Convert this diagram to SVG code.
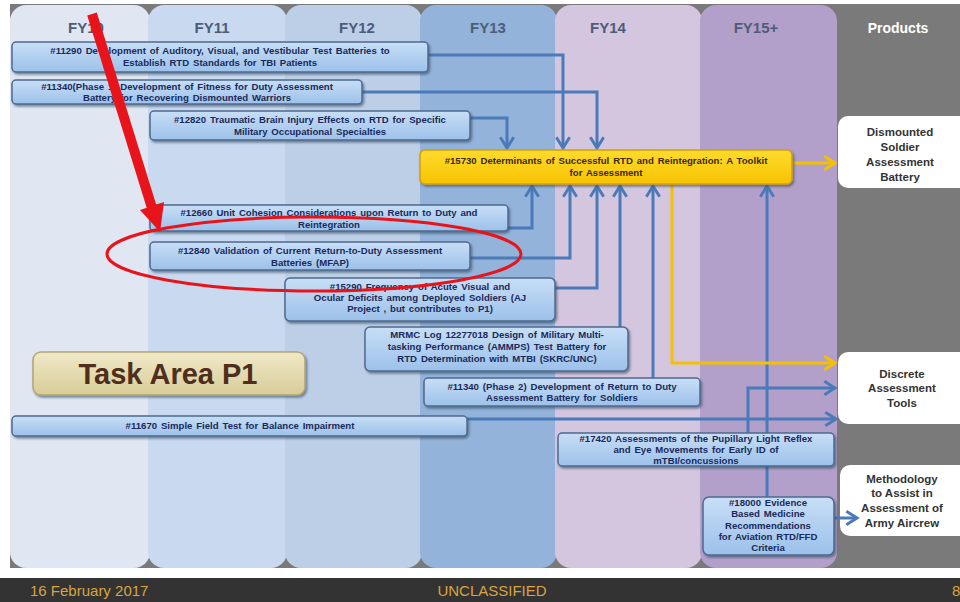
<svg xmlns="http://www.w3.org/2000/svg" width="960" height="602" viewBox="0 0 960 602">
<defs>
<style>
.col{stroke:none}
.hdr{font-family:"Liberation Sans",Arial,sans-serif;font-weight:bold;font-size:15px;fill:#4d5d78;text-anchor:middle}
.box{fill:url(#gBox);stroke:#4f6a8f;stroke-width:1.5;filter:url(#sh)}
.t{font-family:"Liberation Sans",Arial,sans-serif;font-weight:bold;font-size:9.6px;word-spacing:1.2px;fill:#1a2a5a;text-anchor:middle}
.prod{fill:#ffffff;stroke:none}
.pt{font-family:"Liberation Sans",Arial,sans-serif;font-weight:bold;font-size:11.5px;fill:#333333;text-anchor:middle}
.ca{fill:none;stroke:#4a7ab8;stroke-width:3;marker-end:url(#mB)}
.ya{fill:none;stroke:#f5c000;stroke-width:3;marker-end:url(#mY)}
</style>
<linearGradient id="gBox" x1="0" y1="0" x2="0" y2="1">
<stop offset="0" stop-color="#c8def6"/><stop offset="1" stop-color="#9cc1ea"/>
</linearGradient>
<linearGradient id="gYel" x1="0" y1="0" x2="0" y2="1">
<stop offset="0" stop-color="#ffdb2e"/><stop offset="1" stop-color="#f7c300"/>
</linearGradient>
<linearGradient id="gTask" x1="0" y1="0" x2="0" y2="1">
<stop offset="0" stop-color="#f0e9c8"/><stop offset="1" stop-color="#d9cc98"/>
</linearGradient>
<filter id="sh" x="-5%" y="-20%" width="110%" height="150%">
<feDropShadow dx="1.5" dy="2" stdDeviation="1" flood-color="#34465f" flood-opacity="0.6"/>
</filter>
<marker id="mB" viewBox="0 0 12 12" refX="10" refY="6" markerWidth="16" markerHeight="16" markerUnits="userSpaceOnUse" orient="auto">
<path d="M2,1 L10,6 L2,11" fill="none" stroke="#4a7ab8" stroke-width="2.2"/>
</marker>
<marker id="mY" viewBox="0 0 12 12" refX="10" refY="6" markerWidth="16" markerHeight="16" markerUnits="userSpaceOnUse" orient="auto">
<path d="M2,1 L10,6 L2,11" fill="none" stroke="#f5c000" stroke-width="2.2"/>
</marker>
</defs>

<rect x="0" y="0" width="960" height="602" fill="#ffffff"/>
<rect x="10" y="4" width="950" height="564" fill="#7a7a7a"/>

<g id="columns">
<rect class="col" x="10" y="5" width="140" height="563" rx="16" fill="#e0e7f2"/>
<rect class="col" x="148" y="5" width="139" height="563" rx="16" fill="#c9d9ef"/>
<rect class="col" x="285" y="5" width="137" height="563" rx="16" fill="#bdcfe6"/>
<rect class="col" x="420" y="5" width="137" height="563" rx="16" fill="#93b3da"/>
<rect class="col" x="555" y="5" width="147" height="563" rx="16" fill="#d5c6e0"/>
<rect class="col" x="700" y="5" width="137" height="563" rx="16" fill="#b3a0ca"/>
<text class="hdr" x="86" y="33">FY10</text>
<text class="hdr" x="212" y="33">FY11</text>
<text class="hdr" x="357" y="33">FY12</text>
<text class="hdr" x="488" y="33">FY13</text>
<text class="hdr" x="608" y="33">FY14</text>
<text class="hdr" x="756" y="33">FY15+</text>
<text class="hdr" x="898" y="33" style="fill:#ffffff;font-size:14px">Products</text>
</g>

<g id="pDismounted">
<rect class="prod" x="838" y="116" width="140" height="72" rx="10"/>
<text class="pt" x="900" y="136">Dismounted</text>
<text class="pt" x="900" y="151">Soldier</text>
<text class="pt" x="900" y="166">Assessment</text>
<text class="pt" x="900" y="181">Battery</text>
</g>
<g id="pDiscrete">
<rect class="prod" x="838" y="352" width="140" height="72" rx="10"/>
<text class="pt" x="902" y="378">Discrete</text>
<text class="pt" x="902" y="392">Assessment</text>
<text class="pt" x="902" y="407">Tools</text>
</g>
<g id="pMethodology">
<rect class="prod" x="840" y="465" width="140" height="71" rx="10"/>
<text class="pt" x="902" y="483">Methodology</text>
<text class="pt" x="902" y="497">to Assist in</text>
<text class="pt" x="902" y="512">Assessment of</text>
<text class="pt" x="902" y="527">Army Aircrew</text>
</g>

<g id="connectors">
<polyline class="ca" points="428,55 563,55 563,148"/>
<polyline class="ca" points="362,92 597,92 597,148"/>
<polyline class="ca" points="470,118 507,118 507,148"/>
<polyline class="ca" points="508,228 532,228 532,186"/>
<polyline class="ca" points="470,258 570,258 570,186"/>
<polyline class="ca" points="555,288 597,288 597,186"/>
<polyline class="ca" points="620,328 620,186"/>
<polyline class="ca" points="653,378 653,186"/>
<polyline class="ca" points="767,497 767,186"/>
<polyline class="ca" points="748,433 748,388 835,388"/>
<polyline class="ca" points="467,419 836,419"/>
<polyline class="ca" points="833,518 857,518"/>
<polyline class="ya" points="792,163 835,163"/>
<polyline class="ya" points="672,184 672,363 835,363"/>
</g>

<g id="n11290">
<rect class="box" x="12" y="42" width="416" height="30" rx="4"/>
<text class="t" x="220" y="54">#11290 Development of Auditory, Visual, and Vestibular Test Batteries to</text>
<text class="t" x="220" y="66">Establish RTD Standards for TBI Patients</text>
</g>
<g id="n11340p1">
<rect class="box" x="12" y="80" width="350" height="24" rx="4"/>
<text class="t" x="187" y="90">#11340(Phase 1) Development of Fitness for Duty Assessment</text>
<text class="t" x="187" y="101">Battery for Recovering Dismounted Warriors</text>
</g>
<g id="n12820">
<rect class="box" x="150" y="111" width="320" height="29" rx="4"/>
<text class="t" x="310" y="123">#12820 Traumatic Brain Injury Effects on RTD for Specific</text>
<text class="t" x="310" y="135">Military Occupational Specialties</text>
</g>
<g id="n15730">
<rect x="420" y="150" width="372" height="34" rx="5" fill="url(#gYel)" stroke="#d4a000" stroke-width="1.5" filter="url(#sh)"/>
<text class="t" x="606" y="164" style="fill:#3a2a00">#15730 Determinants of Successful RTD and Reintegration: A Toolkit</text>
<text class="t" x="606" y="176" style="fill:#3a2a00">for Assessment</text>
</g>
<g id="n12660">
<rect class="box" x="150" y="205" width="358" height="26" rx="4"/>
<text class="t" x="329" y="216">#12660 Unit Cohesion Considerations upon Return to Duty and</text>
<text class="t" x="329" y="228">Reintegration</text>
</g>
<g id="n12840">
<rect class="box" x="150" y="242" width="320" height="28" rx="4"/>
<text class="t" x="310" y="254">#12840 Validation of Current Return-to-Duty Assessment</text>
<text class="t" x="310" y="266">Batteries (MFAP)</text>
</g>
<g id="n15290">
<rect class="box" x="285" y="278" width="270" height="43" rx="5"/>
<text class="t" x="420" y="290">#15290 Frequency of Acute Visual and</text>
<text class="t" x="420" y="301">Ocular Deficits among Deployed Soldiers (AJ</text>
<text class="t" x="420" y="312">Project , but contributes to P1)</text>
</g>
<g id="nMRMC">
<rect class="box" x="365" y="327" width="263" height="44" rx="5"/>
<text class="t" x="497" y="338">MRMC Log 12277018 Design of Military Multi-</text>
<text class="t" x="497" y="350">tasking Performance (AMMPS) Test Battery for</text>
<text class="t" x="497" y="362">RTD Determination with MTBI (SKRC/UNC)</text>
</g>
<g id="n11340p2">
<rect class="box" x="424" y="378" width="276" height="28" rx="4"/>
<text class="t" x="562" y="390">#11340 (Phase 2) Development of Return to Duty</text>
<text class="t" x="562" y="401">Assessment Battery for Soldiers</text>
</g>
<g id="n11670">
<rect class="box" x="12" y="416" width="455" height="20" rx="4"/>
<text class="t" x="240" y="429">#11670 Simple Field Test for Balance Impairment</text>
</g>
<g id="n17420">
<rect class="box" x="558" y="433" width="276" height="33" rx="4"/>
<text class="t" x="696" y="442">#17420 Assessments of the Pupillary Light Reflex</text>
<text class="t" x="696" y="453">and Eye Movements for Early ID of</text>
<text class="t" x="696" y="464">mTBI/concussions</text>
</g>
<g id="n18000">
<rect class="box" x="703" y="497" width="131" height="58" rx="6"/>
<text class="t" x="768" y="506">#18000 Evidence</text>
<text class="t" x="768" y="517">Based Medicine</text>
<text class="t" x="768" y="529">Recommendations</text>
<text class="t" x="768" y="540">for Aviation RTD/FFD</text>
<text class="t" x="768" y="551">Criteria</text>
</g>

<g id="taskArea">
<rect x="33" y="352" width="272" height="43" rx="8" fill="url(#gTask)" stroke="#b3a472" stroke-width="1.5" filter="url(#sh)"/>
<text x="168" y="384" text-anchor="middle" font-family="'Liberation Sans',Arial,sans-serif" font-weight="bold" font-size="29" fill="#4e2e1c">Task Area P1</text>
</g>

<g id="annotations">
<ellipse cx="314" cy="254" rx="207" ry="37" fill="none" stroke="#e8141c" stroke-width="3"/>
<line x1="92" y1="14" x2="152" y2="208" stroke="#e8141c" stroke-width="10"/>
<polygon points="160,232 164,202 140,210" fill="#e8141c"/>
</g>

<g id="footer">
<rect x="0" y="578" width="960" height="24" fill="#333333"/>
<text x="30" y="596" font-family="'Liberation Sans',Arial,sans-serif" font-size="15" fill="#d9a441">16 February 2017</text>
<text x="492" y="596" text-anchor="middle" font-family="'Liberation Sans',Arial,sans-serif" font-size="15" fill="#d9a441">UNCLASSIFIED</text>
<text x="952" y="596" font-family="'Liberation Sans',Arial,sans-serif" font-size="15" fill="#d9a441">8</text>
</g>
</svg>
